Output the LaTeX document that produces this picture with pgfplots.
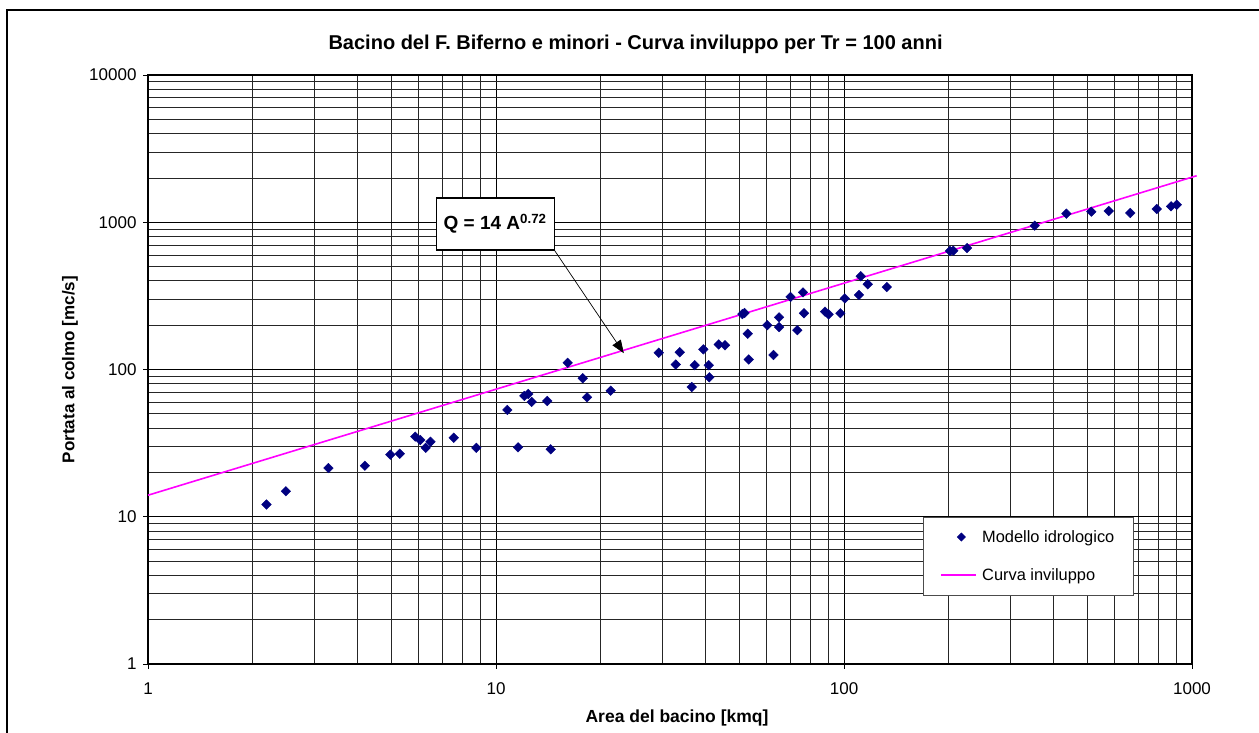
\documentclass[border=0pt]{standalone}
\usepackage{fontspec}
\setmainfont{Liberation Sans}
\usepackage{pgfplots}
\pgfplotsset{compat=1.18}
\usetikzlibrary{arrows.meta}
\definecolor{navy}{RGB}{0,0,128}
\definecolor{mag}{RGB}{255,0,255}
\pgfplotsset{
  legmark/.style={legend image code/.code={\draw[##1, mark size=2.8pt] plot coordinates {(20pt,0pt)}; \path (0pt,0pt) (38pt,0pt);}},
  legline/.style={legend image code/.code={\draw[color=mag, line width=2pt, solid] (0pt,0.5pt) -- (35pt,0.5pt); \path (38pt,0pt);}},
}
\begin{document}
\begin{tikzpicture}[x=1pt,y=1pt]
\useasboundingbox (-148,-69) rectangle (1111,664);
\draw[line width=2pt] (-141,-120) -- (-141,654) -- (1130,654);
\begin{axis}[
  at={(0,0)}, anchor=south west,
  xmode=log, ymode=log,
  scale only axis, width=1044pt, height=589pt,
  xmin=1, xmax=1000, ymin=1, ymax=10000,
  clip=false,
  grid=both,
  major grid style={black, line width=0.75pt},
  minor grid style={black!85, line width=0.75pt},
  axis line style={black, line width=1.4pt},
  tick pos=left, tick align=outside,
  major tick length=5pt, minor tick length=0pt,
  tick style={black, line width=0.7pt},
  xtick={1,10,100,1000}, xticklabels={1,10,100,1000},
  ytick={1,10,100,1000,10000}, yticklabels={1,10,100,1000,10000},
  tick label style={font=\fontsize{17}{20}\selectfont},
  xticklabel style={yshift=-10pt},
  yticklabel style={xshift=-3pt},
  title={Bacino del F. Biferno e minori - Curva inviluppo per Tr = 100 anni},
  title style={at={(axis description cs:0.467,1.0526)}, anchor=center, yshift=-6pt, font=\bfseries\fontsize{20}{24}\selectfont},
  xlabel={Area del bacino [kmq]},
  xlabel style={at={(axis description cs:0.5067,-0.0917)}, anchor=center, font=\bfseries\fontsize{17.5}{21}\selectfont},
  ylabel={Portata al colmo [mc/s]},
  ylabel style={at={(axis description cs:-0.0747,0.5)}, anchor=center, font=\bfseries\fontsize{17}{21}\selectfont},
  legend style={at={(axis description cs:0.7423,0.2496)}, anchor=north west,
    draw=black!70, line width=0.8pt, fill=white,
    font=\fontsize{16.4}{19}\selectfont,
    inner xsep=17pt, inner ysep=11pt, row sep=21pt},
  legend cell align=left,
]
\addplot[only marks, mark=square*, mark size=3.4pt, color=navy,
  mark options={rotate=45, fill=navy, draw=navy}, legmark]
  coordinates {
(2.19,12.1) (2.49,14.9) (3.30,21.4) (4.20,22.2) (4.97,26.4) (5.29,26.8)
(5.86,35.0) (6.06,33.2) (6.28,29.4) (6.48,32.3) (7.56,34.4) (8.78,29.4)
(10.78,53.1) (11.57,29.6) (12.06,66.1) (12.38,68.2) (12.66,60.2) (14.04,61.1)
(14.36,28.7) (16.07,111) (17.75,87.2) (18.26,64.7) (21.36,71.8) (29.35,130)
(32.85,108) (33.73,131) (36.51,76.1) (37.24,107) (39.42,137) (40.86,107)
(41.02,88.5) (43.65,148) (45.5,146) (51.04,238) (51.8,242) (52.88,175)
(53.23,117) (60.2,200) (62.7,125.5) (65.05,226) (65.1,194) (70.2,311)
(73.4,185) (76.25,334) (76.76,241) (88.2,247) (90.3,237) (97.6,241)
(100.5,304) (110.4,321) (111.7,430) (117.0,379) (132.7,363) (201.7,638)
(206.1,641) (225.7,668) (353.2,948) (435.4,1143) (513.5,1180) (576.3,1192)
(664.6,1156) (791.9,1230) (870.6,1283) (903.6,1315)
};
\addlegendentry{Modello idrologico}
\addplot[color=mag, line width=1.6pt, no marks, legline]
  coordinates {(1,14) (1031,2069)};
\addlegendentry{Curva inviluppo}
\node[draw=black, line width=1.2pt, fill=white, minimum width=118pt, minimum height=52pt,
  font=\bfseries\fontsize{19}{22}\selectfont] (eq) at (axis cs:9.94,973) {Q = 14 A\textsuperscript{0.72}};
\draw[black, line width=0.7pt, -{Triangle[length=13pt,width=10pt]}] (eq.south east) -- (axis cs:23.3,129);
\end{axis}
\end{tikzpicture}
\end{document}
